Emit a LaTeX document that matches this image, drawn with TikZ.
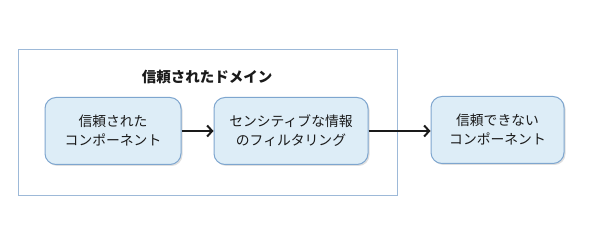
\documentclass[tikz,border=0pt]{standalone}
\usepackage{fontspec}
\newfontfamily\jp{Noto Sans CJK JP}
\usetikzlibrary{arrows.meta,shadows}
\definecolor{boxfill}{HTML}{DDEDF7}
\definecolor{boxline}{HTML}{7EA6CF}
\definecolor{outerline}{HTML}{9DB9D8}
\definecolor{txt}{HTML}{1A1A1A}
\tikzset{
  comp/.style={draw=boxline, line width=1pt, fill=boxfill, rounded corners=11pt,
    minimum height=67pt, align=center, font=\jp\fontsize{13.8}{19}\selectfont, text=txt,
    drop shadow={shadow xshift=1.5pt, shadow yshift=-1.5pt, opacity=0.25}},
  conn/.style={line width=1.8pt, draw=txt, -{Straight Barb[length=5pt,width=11pt,line width=2pt]}}
}
\begin{document}
\begin{tikzpicture}[x=1pt,y=-1pt]
\useasboundingbox (0,0) rectangle (600,251);
\fill[white] (0,0) rectangle (600,251);
\node[draw=outerline, line width=1pt, minimum width=379pt, minimum height=146pt, inner sep=0pt] (domain) at (207.5,123) {};
\node[font=\jp\bfseries\fontsize{14.5}{18}\selectfont, text=txt] (title) at (207,77) {信頼されたドメイン};
\node[comp, minimum width=136pt] (a) at (113,131) {信頼された\\コンポーネント};
\node[comp, minimum width=154pt] (b) at (291,131) {センシティブな情報\\のフィルタリング};
\node[comp, minimum width=133pt] (c) at (497.5,130) {信頼できない\\コンポーネント};
\draw[conn] (a.east) -- (b.west);
\draw[conn] (b.east) -- (c.west |- b.east);
\end{tikzpicture}
\end{document}
